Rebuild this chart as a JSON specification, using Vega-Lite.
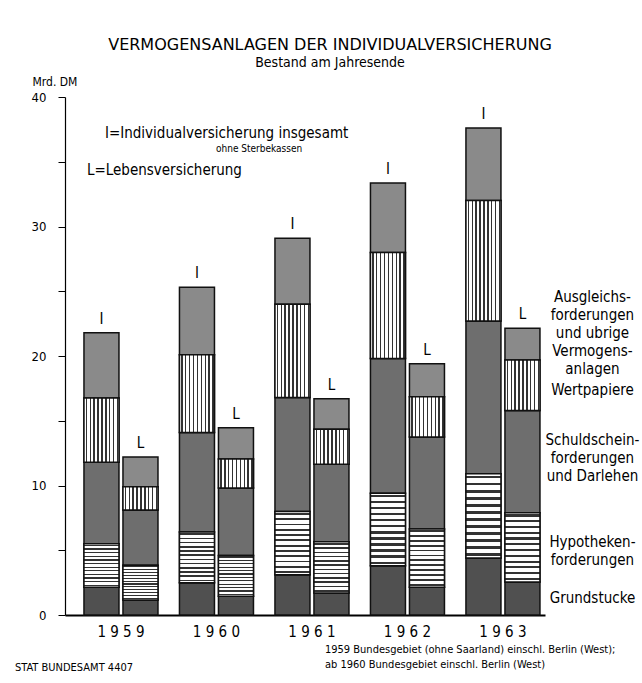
{
  "$schema": "https://vega.github.io/schema/vega-lite/v6.json",
  "width": 480,
  "height": 518,
  "autosize": {"type": "none"},
  "padding": {"left": 65, "top": 97, "right": 97, "bottom": 68},
  "background": "white",
  "title": {
    "text": "VERMOGENSANLAGEN DER INDIVIDUALVERSICHERUNG",
    "subtitle": "Bestand am Jahresende",
    "anchor": "middle",
    "dx": 25,
    "offset": 5,
    "font": "DejaVu Sans",
    "fontSize": 16,
    "fontWeight": "normal",
    "color": "black",
    "subtitleFont": "DejaVu Sans Condensed",
    "subtitleFontSize": 14,
    "subtitleColor": "black",
    "subtitlePadding": 3
  },
  "config": {
    "view": {"stroke": null},
    "font": "DejaVu Sans Condensed"
  },
  "datasets": {
    "assets": [
      {"year": "1959", "type": "I", "cat": "Grundstücke", "order": 1, "value": 2.15},
      {"year": "1959", "type": "I", "cat": "Hypotheken", "order": 2, "value": 3.35},
      {"year": "1959", "type": "I", "cat": "Schuldschein", "order": 3, "value": 6.3},
      {"year": "1959", "type": "I", "cat": "Wertpapiere", "order": 4, "value": 4.95},
      {"year": "1959", "type": "I", "cat": "Ausgleich", "order": 5, "value": 5.05},
      {"year": "1959", "type": "L", "cat": "Grundstücke", "order": 1, "value": 1.15},
      {"year": "1959", "type": "L", "cat": "Hypotheken", "order": 2, "value": 2.7},
      {"year": "1959", "type": "L", "cat": "Schuldschein", "order": 3, "value": 4.25},
      {"year": "1959", "type": "L", "cat": "Wertpapiere", "order": 4, "value": 1.8},
      {"year": "1959", "type": "L", "cat": "Ausgleich", "order": 5, "value": 2.3},
      {"year": "1960", "type": "I", "cat": "Grundstücke", "order": 1, "value": 2.5},
      {"year": "1960", "type": "I", "cat": "Hypotheken", "order": 2, "value": 3.9},
      {"year": "1960", "type": "I", "cat": "Schuldschein", "order": 3, "value": 7.7},
      {"year": "1960", "type": "I", "cat": "Wertpapiere", "order": 4, "value": 6.0},
      {"year": "1960", "type": "I", "cat": "Ausgleich", "order": 5, "value": 5.2},
      {"year": "1960", "type": "L", "cat": "Grundstücke", "order": 1, "value": 1.45},
      {"year": "1960", "type": "L", "cat": "Hypotheken", "order": 2, "value": 3.15},
      {"year": "1960", "type": "L", "cat": "Schuldschein", "order": 3, "value": 5.2},
      {"year": "1960", "type": "L", "cat": "Wertpapiere", "order": 4, "value": 2.25},
      {"year": "1960", "type": "L", "cat": "Ausgleich", "order": 5, "value": 2.4},
      {"year": "1961", "type": "I", "cat": "Grundstücke", "order": 1, "value": 3.1},
      {"year": "1961", "type": "I", "cat": "Hypotheken", "order": 2, "value": 4.9},
      {"year": "1961", "type": "I", "cat": "Schuldschein", "order": 3, "value": 8.8},
      {"year": "1961", "type": "I", "cat": "Wertpapiere", "order": 4, "value": 7.2},
      {"year": "1961", "type": "I", "cat": "Ausgleich", "order": 5, "value": 5.1},
      {"year": "1961", "type": "L", "cat": "Grundstücke", "order": 1, "value": 1.7},
      {"year": "1961", "type": "L", "cat": "Hypotheken", "order": 2, "value": 3.95},
      {"year": "1961", "type": "L", "cat": "Schuldschein", "order": 3, "value": 6.0},
      {"year": "1961", "type": "L", "cat": "Wertpapiere", "order": 4, "value": 2.7},
      {"year": "1961", "type": "L", "cat": "Ausgleich", "order": 5, "value": 2.35},
      {"year": "1962", "type": "I", "cat": "Grundstücke", "order": 1, "value": 3.8},
      {"year": "1962", "type": "I", "cat": "Hypotheken", "order": 2, "value": 5.6},
      {"year": "1962", "type": "I", "cat": "Schuldschein", "order": 3, "value": 10.4},
      {"year": "1962", "type": "I", "cat": "Wertpapiere", "order": 4, "value": 8.2},
      {"year": "1962", "type": "I", "cat": "Ausgleich", "order": 5, "value": 5.35},
      {"year": "1962", "type": "L", "cat": "Grundstücke", "order": 1, "value": 2.15},
      {"year": "1962", "type": "L", "cat": "Hypotheken", "order": 2, "value": 4.5},
      {"year": "1962", "type": "L", "cat": "Schuldschein", "order": 3, "value": 7.1},
      {"year": "1962", "type": "L", "cat": "Wertpapiere", "order": 4, "value": 3.1},
      {"year": "1962", "type": "L", "cat": "Ausgleich", "order": 5, "value": 2.55},
      {"year": "1963", "type": "I", "cat": "Grundstücke", "order": 1, "value": 4.4},
      {"year": "1963", "type": "I", "cat": "Hypotheken", "order": 2, "value": 6.5},
      {"year": "1963", "type": "I", "cat": "Schuldschein", "order": 3, "value": 11.8},
      {"year": "1963", "type": "I", "cat": "Wertpapiere", "order": 4, "value": 9.3},
      {"year": "1963", "type": "I", "cat": "Ausgleich", "order": 5, "value": 5.6},
      {"year": "1963", "type": "L", "cat": "Grundstücke", "order": 1, "value": 2.55},
      {"year": "1963", "type": "L", "cat": "Hypotheken", "order": 2, "value": 5.35},
      {"year": "1963", "type": "L", "cat": "Schuldschein", "order": 3, "value": 7.9},
      {"year": "1963", "type": "L", "cat": "Wertpapiere", "order": 4, "value": 3.9},
      {"year": "1963", "type": "L", "cat": "Ausgleich", "order": 5, "value": 2.45}
    ],
    "catlabels": [
      {"label": "Ausgleichs-|forderungen|und ubrige|Vermogens-|anlagen", "pos": 24.55},
      {"label": "Wertpapiere", "pos": 17.4},
      {"label": "Schuldschein-|forderungen|und Darlehen", "pos": 13.5},
      {"label": "Hypotheken-|forderungen", "pos": 5.6},
      {"label": "Grundstucke", "pos": 1.3}
    ]
  },
  "layer": [
    {
      "data": {"name": "assets"},
      "transform": [
        {"stack": "value", "groupby": ["year", "type"], "sort": [{"field": "order", "order": "ascending"}], "as": ["v0", "v1"]}
      ],
      "mark": {"type": "bar", "stroke": "#111", "strokeWidth": 1.5},
      "encoding": {
        "x": {
          "field": "year", "type": "nominal",
          "scale": {"paddingInner": 0.225, "paddingOuter": 0.1257, "align": 0.79, "round": false},
          "axis": {
            "title": null, "domainColor": "black", "domainWidth": 2, "ticks": false,
            "labelAngle": 0, "labelFont": "DejaVu Sans Condensed", "labelFontSize": 15, "labelColor": "black",
            "labelPadding": 9,
            "labelExpr": "join(split(datum.label, ''), ' ')"
          }
        },
        "xOffset": {"field": "type", "type": "nominal", "scale": {"paddingInner": 0.1026, "paddingOuter": 0}},
        "y": {
          "field": "v1", "type": "quantitative",
          "scale": {"domain": [0, 40], "nice": false},
          "axis": {
            "title": "Mrd. DM", "titleAngle": 0, "titleX": -33, "titleY": -16, "titleAlign": "left", "titleBaseline": "middle",
            "titleFont": "DejaVu Sans Condensed", "titleFontSize": 12, "titleFontWeight": "normal", "titleColor": "black",
            "values": [0, 5, 10, 15, 20, 25, 30, 35, 40],
            "labelExpr": "datum.value % 10 == 0 ? datum.label : ''",
            "grid": false, "domainColor": "black", "domainWidth": 1.2, "tickColor": "black", "tickSize": 7,
            "labelFont": "DejaVu Sans Condensed", "labelFontSize": 13, "labelColor": "black", "labelPadding": 12
          }
        },
        "y2": {"field": "v0"},
        "fill": {
          "field": "cat", "type": "nominal", "legend": null,
          "scale": {
            "domain": ["Grundstücke", "Hypotheken", "Schuldschein", "Wertpapiere", "Ausgleich"],
            "range": ["#505050", "#ffffff", "#6e6e6e", "#ffffff", "#8a8a8a"]
          }
        }
      }
    },
    {
      "data": {"name": "assets"},
      "transform": [
        {"stack": "value", "groupby": ["year", "type"], "sort": [{"field": "order", "order": "ascending"}], "as": ["v0", "v1"]},
        {"filter": "datum.cat == 'Hypotheken'"}
      ],
      "mark": {
        "type": "bar", "stroke": "#111", "strokeWidth": 1.5,
        "fill": {
          "gradient": "linear", "x1": 0, "y1": 0, "x2": 0, "y2": 1,
          "stops": [
            {"offset": 0, "color": "#ffffff"},
            {"offset": 0.025, "color": "#ffffff"}, {"offset": 0.025, "color": "#333333"}, {"offset": 0.055, "color": "#333333"}, {"offset": 0.055, "color": "#ffffff"},
            {"offset": 0.108, "color": "#ffffff"}, {"offset": 0.108, "color": "#333333"}, {"offset": 0.138, "color": "#333333"}, {"offset": 0.138, "color": "#ffffff"},
            {"offset": 0.192, "color": "#ffffff"}, {"offset": 0.192, "color": "#333333"}, {"offset": 0.222, "color": "#333333"}, {"offset": 0.222, "color": "#ffffff"},
            {"offset": 0.275, "color": "#ffffff"}, {"offset": 0.275, "color": "#333333"}, {"offset": 0.305, "color": "#333333"}, {"offset": 0.305, "color": "#ffffff"},
            {"offset": 0.358, "color": "#ffffff"}, {"offset": 0.358, "color": "#333333"}, {"offset": 0.388, "color": "#333333"}, {"offset": 0.388, "color": "#ffffff"},
            {"offset": 0.442, "color": "#ffffff"}, {"offset": 0.442, "color": "#333333"}, {"offset": 0.472, "color": "#333333"}, {"offset": 0.472, "color": "#ffffff"},
            {"offset": 0.525, "color": "#ffffff"}, {"offset": 0.525, "color": "#333333"}, {"offset": 0.555, "color": "#333333"}, {"offset": 0.555, "color": "#ffffff"},
            {"offset": 0.608, "color": "#ffffff"}, {"offset": 0.608, "color": "#333333"}, {"offset": 0.638, "color": "#333333"}, {"offset": 0.638, "color": "#ffffff"},
            {"offset": 0.692, "color": "#ffffff"}, {"offset": 0.692, "color": "#333333"}, {"offset": 0.722, "color": "#333333"}, {"offset": 0.722, "color": "#ffffff"},
            {"offset": 0.775, "color": "#ffffff"}, {"offset": 0.775, "color": "#333333"}, {"offset": 0.805, "color": "#333333"}, {"offset": 0.805, "color": "#ffffff"},
            {"offset": 0.858, "color": "#ffffff"}, {"offset": 0.858, "color": "#333333"}, {"offset": 0.888, "color": "#333333"}, {"offset": 0.888, "color": "#ffffff"},
            {"offset": 0.942, "color": "#ffffff"}, {"offset": 0.942, "color": "#333333"}, {"offset": 0.972, "color": "#333333"}, {"offset": 0.972, "color": "#ffffff"},
            {"offset": 1, "color": "#ffffff"}
          ]
        }
      },
      "encoding": {
        "x": {"field": "year", "type": "nominal"},
        "xOffset": {"field": "type", "type": "nominal"},
        "y": {"field": "v1", "type": "quantitative"},
        "y2": {"field": "v0"}
      }
    },
    {
      "data": {"name": "assets"},
      "transform": [
        {"stack": "value", "groupby": ["year", "type"], "sort": [{"field": "order", "order": "ascending"}], "as": ["v0", "v1"]},
        {"filter": "datum.cat == 'Wertpapiere'"}
      ],
      "mark": {
        "type": "bar", "stroke": "#111", "strokeWidth": 1.5,
        "fill": {
          "gradient": "linear", "x1": 0, "y1": 0, "x2": 1, "y2": 0,
          "stops": [
            {"offset": 0, "color": "#ffffff"},
            {"offset": 0.05, "color": "#ffffff"}, {"offset": 0.05, "color": "#333333"}, {"offset": 0.09, "color": "#333333"}, {"offset": 0.09, "color": "#ffffff"},
            {"offset": 0.161, "color": "#ffffff"}, {"offset": 0.161, "color": "#333333"}, {"offset": 0.201, "color": "#333333"}, {"offset": 0.201, "color": "#ffffff"},
            {"offset": 0.272, "color": "#ffffff"}, {"offset": 0.272, "color": "#333333"}, {"offset": 0.312, "color": "#333333"}, {"offset": 0.312, "color": "#ffffff"},
            {"offset": 0.383, "color": "#ffffff"}, {"offset": 0.383, "color": "#333333"}, {"offset": 0.423, "color": "#333333"}, {"offset": 0.423, "color": "#ffffff"},
            {"offset": 0.494, "color": "#ffffff"}, {"offset": 0.494, "color": "#333333"}, {"offset": 0.534, "color": "#333333"}, {"offset": 0.534, "color": "#ffffff"},
            {"offset": 0.606, "color": "#ffffff"}, {"offset": 0.606, "color": "#333333"}, {"offset": 0.646, "color": "#333333"}, {"offset": 0.646, "color": "#ffffff"},
            {"offset": 0.717, "color": "#ffffff"}, {"offset": 0.717, "color": "#333333"}, {"offset": 0.757, "color": "#333333"}, {"offset": 0.757, "color": "#ffffff"},
            {"offset": 0.828, "color": "#ffffff"}, {"offset": 0.828, "color": "#333333"}, {"offset": 0.868, "color": "#333333"}, {"offset": 0.868, "color": "#ffffff"},
            {"offset": 0.939, "color": "#ffffff"}, {"offset": 0.939, "color": "#333333"}, {"offset": 0.979, "color": "#333333"}, {"offset": 0.979, "color": "#ffffff"},
            {"offset": 1, "color": "#ffffff"}
          ]
        }
      },
      "encoding": {
        "x": {"field": "year", "type": "nominal"},
        "xOffset": {"field": "type", "type": "nominal"},
        "y": {"field": "v1", "type": "quantitative"},
        "y2": {"field": "v0"}
      }
    },
    {
      "data": {"name": "assets"},
      "transform": [
        {"aggregate": [{"op": "sum", "field": "value", "as": "total"}], "groupby": ["year", "type"]}
      ],
      "mark": {"type": "text", "baseline": "bottom", "dy": -6, "fontSize": 15, "font": "DejaVu Sans Condensed", "color": "black"},
      "encoding": {
        "x": {"field": "year", "type": "nominal"},
        "xOffset": {"field": "type", "type": "nominal"},
        "y": {"field": "total", "type": "quantitative"},
        "text": {"field": "type"}
      }
    },
    {
      "data": {"name": "catlabels"},
      "mark": {"type": "text", "align": "center", "baseline": "middle", "dx": 70, "fontSize": 15, "lineHeight": 18, "lineBreak": "|", "font": "DejaVu Sans Condensed", "color": "black"},
      "encoding": {
        "x": {"datum": "1963"},
        "xOffset": {"datum": "L"},
        "y": {"field": "pos", "type": "quantitative"},
        "text": {"field": "label"}
      }
    },
    {
      "data": {"values": [
        {"t": "I=Individualversicherung insgesamt", "pos": 37.2, "size": 15, "shift": -16},
        {"t": "ohne Sterbekassen", "pos": 36.0, "size": 10, "shift": 92},
        {"t": "L=Lebensversicherung", "pos": 34.4, "size": 15, "shift": -34}
      ]},
      "layer": [
        {
          "transform": [{"filter": "datum.t == 'I=Individualversicherung insgesamt'"}],
          "mark": {"type": "text", "align": "left", "baseline": "middle", "dx": -16, "fontSize": 15, "font": "DejaVu Sans Condensed", "color": "black"},
          "encoding": {
            "x": {"datum": "1959"},
            "y": {"field": "pos", "type": "quantitative"},
            "text": {"field": "t"}
          }
        },
        {
          "transform": [{"filter": "datum.t == 'L=Lebensversicherung'"}],
          "mark": {"type": "text", "align": "left", "baseline": "middle", "dx": -34, "fontSize": 15, "font": "DejaVu Sans Condensed", "color": "black"},
          "encoding": {
            "x": {"datum": "1959"},
            "y": {"field": "pos", "type": "quantitative"},
            "text": {"field": "t"}
          }
        },
        {
          "transform": [{"filter": "datum.size == 10"}],
          "mark": {"type": "text", "align": "left", "baseline": "middle", "dx": 95, "fontSize": 10, "font": "DejaVu Sans Condensed", "color": "black"},
          "encoding": {
            "x": {"datum": "1959"},
            "y": {"field": "pos", "type": "quantitative"},
            "text": {"field": "t"}
          }
        }
      ]
    },
    {
      "data": {"values": [{"t": "STAT BUNDESAMT 4407"}]},
      "mark": {"type": "text", "align": "left", "baseline": "middle", "dx": -106, "fontSize": 11, "font": "DejaVu Sans Condensed", "color": "black"},
      "encoding": {
        "x": {"datum": "1959"},
        "y": {"datum": -4.1},
        "text": {"field": "t"}
      }
    },
    {
      "data": {"values": [{"t": "1959 Bundesgebiet (ohne Saarland) einschl. Berlin (West);|ab 1960 Bundesgebiet einschl. Berlin (West)"}]},
      "mark": {"type": "text", "align": "left", "baseline": "middle", "dx": 204, "fontSize": 11, "lineHeight": 15, "lineBreak": "|", "font": "DejaVu Sans Condensed", "color": "black"},
      "encoding": {
        "x": {"datum": "1959"},
        "y": {"datum": -2.7},
        "text": {"field": "t"}
      }
    }
  ]
}
